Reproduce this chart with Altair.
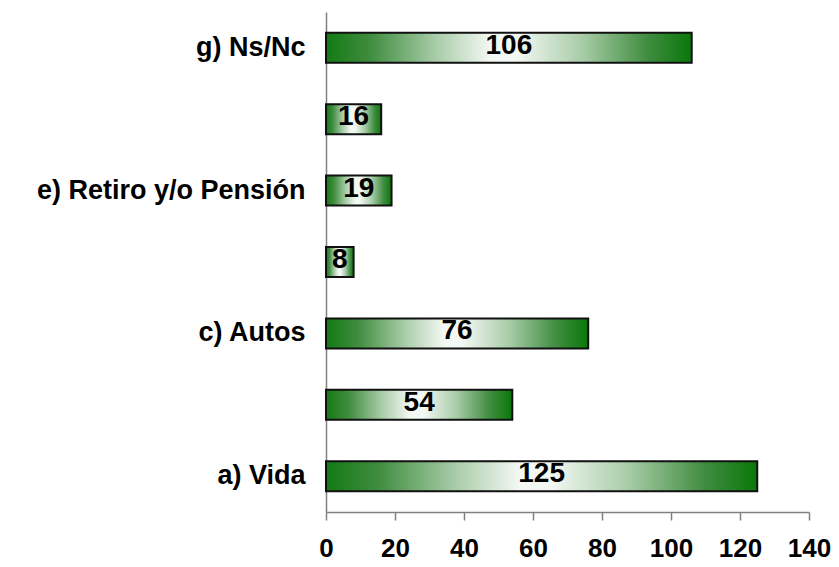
import json
import altair as alt
import pandas as pd

categories = ["a) Vida", "b)", "c) Autos", "d)", "e) Retiro y/o Pensión", "f)", "g) Ns/Nc"]
values = [125, 54, 76, 8, 19, 16, 106]
shown_labels = ["a) Vida", "c) Autos", "e) Retiro y/o Pensión", "g) Ns/Nc"]
x_ticks = [0, 20, 40, 60, 80, 100, 120, 140]

df = pd.DataFrame({"cat": categories, "val": values})

FONT = "Liberation Sans"
label_expr = "indexof(%s, datum.value) >= 0 ? datum.value : ''" % json.dumps(shown_labels, ensure_ascii=False)

y_enc = alt.Y(
    "cat:N",
    sort=categories[::-1],
    scale=alt.Scale(paddingInner=0.58, paddingOuter=0.29),
    axis=alt.Axis(
        title=None, ticks=False, domainColor="#808080", domainWidth=1.5,
        labelFont=FONT, labelFontWeight="bold", labelFontSize=27, labelColor="black",
        labelPadding=21, labelLimit=400, labelExpr=label_expr,
    ),
)

x_enc = alt.X(
    "val:Q",
    scale=alt.Scale(domain=[0, 140], nice=False),
    axis=alt.Axis(
        values=x_ticks, title=None, grid=False, tickSize=8, tickColor="#808080",
        domainColor="#808080", domainWidth=1.5, tickWidth=1.5,
        labelFont=FONT, labelFontWeight="bold", labelFontSize=26, labelColor="black",
        labelPadding=15, labelFlush=False,
    ),
)

gradient = alt.Gradient(
    gradient="linear",
    stops=[
        alt.GradientStop(color="#137a13", offset=0),
        alt.GradientStop(color="#3f8c3f", offset=0.12),
        alt.GradientStop(color="#a8cca8", offset=0.3),
        alt.GradientStop(color="#f4f8f4", offset=0.45),
        alt.GradientStop(color="#f4f8f4", offset=0.52),
        alt.GradientStop(color="#a8cca8", offset=0.7),
        alt.GradientStop(color="#3f8c3f", offset=0.88),
        alt.GradientStop(color="#0a780a", offset=1),
    ],
    x1=0, x2=1, y1=0, y2=0,
)

bars = alt.Chart(df).mark_bar(fill=gradient, stroke="#111111", strokeWidth=2).encode(
    x=x_enc, y=y_enc
)

text = alt.Chart(df).transform_calculate(mid="datum.val / 2").mark_text(
    font=FONT, fontWeight="bold", fontSize=28, color="black", dy=-2
).encode(
    x=alt.X("mid:Q"),
    y=alt.Y("cat:N", sort=categories[::-1]),
    text="val:Q",
)

chart = (bars + text).properties(
    width=483,
    height=500,
    autosize=alt.AutoSizeParams(type="none"),
    padding={"left": 318, "top": 4, "right": 22, "bottom": 51},
).configure_view(stroke=None)

chart.save("out.html", embed_options={"renderer": "svg", "actions": False})
